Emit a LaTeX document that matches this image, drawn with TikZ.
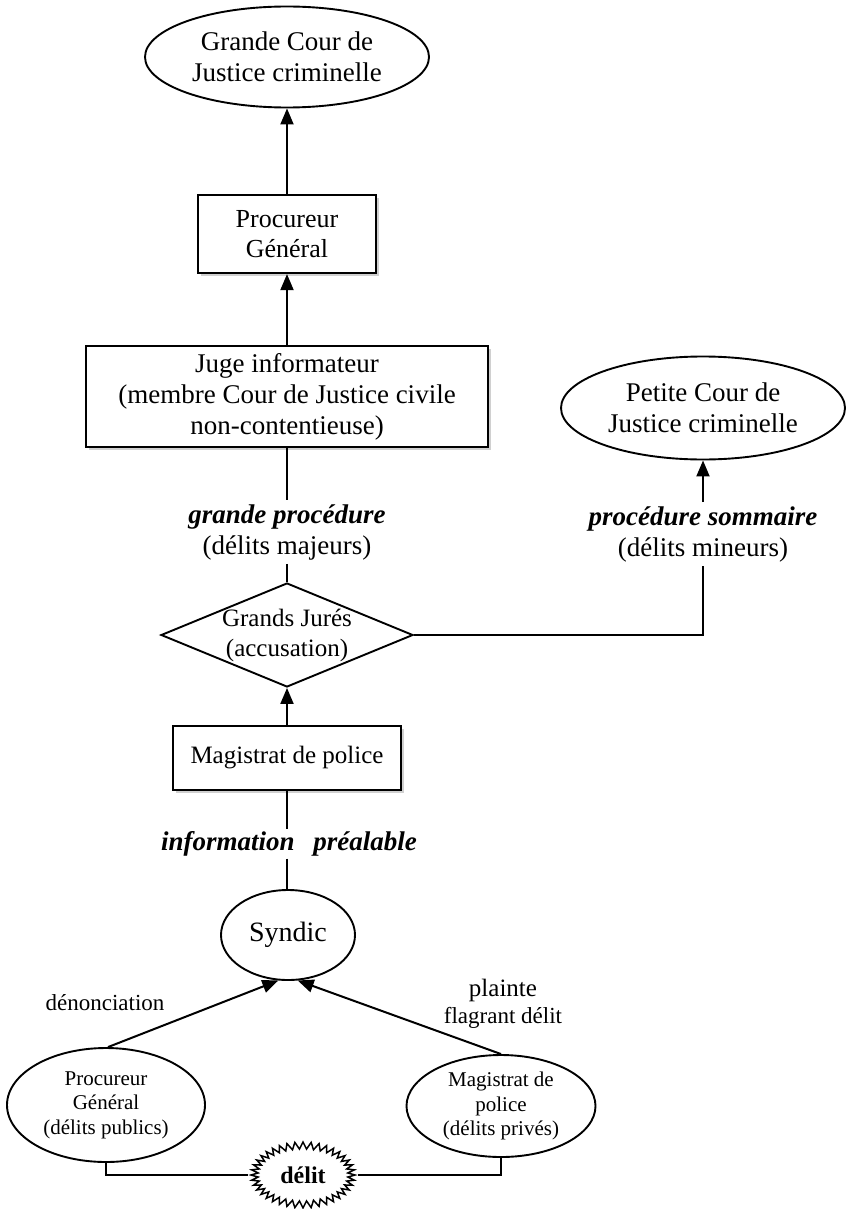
\documentclass[tikz,border=0pt]{standalone}
\usepackage{fontspec}
\setmainfont{Liberation Serif}
\usetikzlibrary{shapes.geometric,shapes.symbols,arrows.meta,shadows}
\begin{document}
\begin{tikzpicture}[x=1pt,y=-1pt,
  box/.style={draw, line width=2.2pt, fill=white, inner sep=0pt, align=center,
    drop shadow={shadow xshift=3pt, shadow yshift=-3pt, opacity=0.3, fill=black!60}},
  oval/.style={ellipse, draw, line width=1.9pt, fill=white, inner sep=0pt, align=center},
  conn/.style={line width=2pt},
  arr/.style={conn, -{Triangle[length=16pt,width=13pt]}},
  big/.style={font=\fontsize{27}{31}\selectfont},
  small/.style={font=\fontsize{21}{24.5}\selectfont},
  lbl/.style={align=center, inner sep=0pt, inner ysep=4pt}
]
\fill[white] (0,0) rectangle (847,1209);
\useasboundingbox (0,0) rectangle (847,1209);

% nodes
\node[oval, big, minimum width=284pt, minimum height=101pt] (gcj) at (287,57) {Grande Cour de\\Justice criminelle};
\node[box, font=\fontsize{26}{30}\selectfont, minimum width=178pt, minimum height=78pt] (pg) at (287,234) {Procureur\\Général};
\node[box, big, minimum width=402pt, minimum height=101pt] (juge) at (287,396.5) {Juge informateur\\(membre Cour de Justice civile\\non-contentieuse)};
\node[lbl, big] (gp) at (287,532) {\textbf{\textit{grande procédure}}\\(délits majeurs)};
\node[diamond, draw, line width=1.9pt, fill=white, minimum width=252pt, minimum height=104pt, inner sep=0pt,
  label={[font=\fontsize{25}{30}\selectfont, align=center]center:Grands Jurés\\(accusation)}] (gj) at (287,635) {};
\node[oval, big, minimum width=284pt, minimum height=103pt] (pcj) at (703,408) {Petite Cour de\\Justice criminelle};
\node[lbl, big] (ps) at (703,534) {\textbf{\textit{procédure sommaire}}\\(délits mineurs)};
\node[box, font=\fontsize{25}{30}\selectfont, minimum width=228pt, minimum height=64pt] (mag) at (287,758) {Magistrat de police};
\node[lbl, font=\fontsize{27}{31}\selectfont\bfseries\itshape, inner ysep=2pt] (ip) at (289,844) {information\hspace{0.45em} préalable};
\node[oval, font=\fontsize{28}{32}\selectfont, minimum width=134pt, minimum height=90pt] (syn) at (288,935) {Syndic};
\node[oval, small, minimum width=198pt, minimum height=114pt] (pgl) at (106,1105) {Procureur\\Général\\(délits publics)};
\node[oval, small, minimum width=189pt, minimum height=102pt] (mpr) at (501,1106) {Magistrat de\\police\\(délits privés)};
\node[starburst, draw, line width=1.5pt, fill=white, starburst points=40, starburst point height=7pt, random starburst=0,
  minimum width=104pt, minimum height=66pt, inner sep=0pt, font=\fontsize{24}{28}\selectfont\bfseries] (del) at (303,1175) {délit};
\node[font=\fontsize{23}{27}\selectfont] (den) at (105,1003) {dénonciation};
\node[font=\fontsize{25}{28}\selectfont] (pl) at (503,990) {plainte};
\node[font=\fontsize{23}{27}\selectfont] (fd) at (503,1018) {flagrant délit};

% connectors
\draw[arr] (pg.north) -- (gcj.south);
\draw[arr] (juge.north) -- (pg.south);
\draw[conn] (juge.south) -- (gp.north);
\draw[conn] (gp.south) -- (gj.north);
\draw[conn] (gj.east) -- (gj.east -| ps.south) -- (ps.south);
\draw[arr] (ps.north) -- (pcj.south);
\draw[arr] (mag.north) -- (gj.south);
\draw[conn] (mag.south) -- (mag.south |- ip.north);
\draw[conn] (ip.south -| mag.south) -- (syn.north -| mag.south);
\draw[arr] (pgl.88) -- (syn.258);
\draw[arr] (mpr.north) -- (syn.282);
\draw[conn] (pgl.south) |- (del.west);
\draw[conn] (mpr.south) |- (del.east);
\end{tikzpicture}
\end{document}
